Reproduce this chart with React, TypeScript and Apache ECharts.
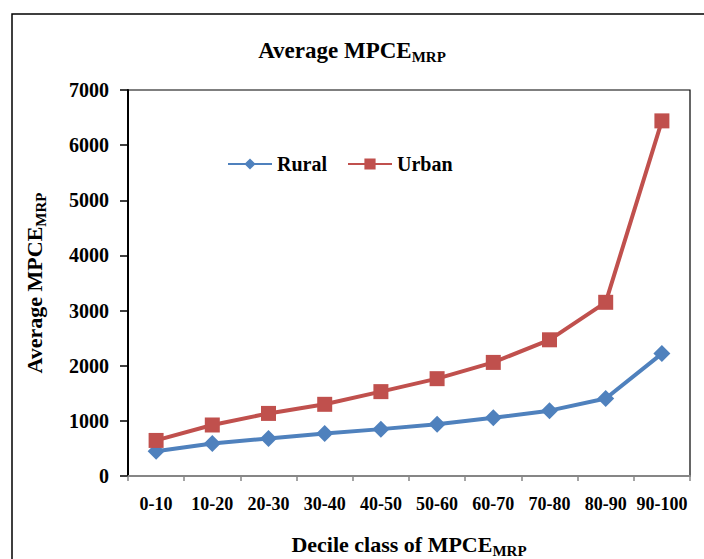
import React, { useEffect, useRef } from "react";
import * as echarts from "echarts";

const categories = ["0-10", "10-20", "20-30", "30-40", "40-50", "50-60", "60-70", "70-80", "80-90", "90-100"];
const rural = [450, 590, 680, 770, 850, 940, 1055, 1185, 1405, 2220];
const urban = [645, 925, 1135, 1300, 1530, 1765, 2060, 2470, 3150, 6440];
const yTicks = { min: 0, max: 7000, interval: 1000 };

const FONT = "'Liberation Serif', 'Times New Roman', serif";

const subRich = (main: number, sub: number) => ({
  a: { fontFamily: FONT, fontWeight: "bold", fontSize: main, color: "#000", lineHeight: 28 },
  b: { fontFamily: FONT, fontWeight: "bold", fontSize: sub, color: "#000", lineHeight: sub, padding: [13, 0, 0, 0] },
});

export default function App() {
  const ref = useRef<HTMLDivElement>(null);
  useEffect(() => {
    if (!ref.current) return;
    const chart = echarts.init(ref.current, undefined, { renderer: "svg" });
    chart.setOption({
      animation: false,
      backgroundColor: "#fff",
      textStyle: { fontFamily: FONT },
      graphic: [
        {
          type: "rect",
          shape: { x: 12, y: 14, width: 720, height: 600 },
          style: { fill: "none", stroke: "#000", lineWidth: 1.5 },
          silent: true,
        },
      ],
      title: {
        left: "center",
        top: 31,
        text: "{a|Average MPCE}{b|MRP}",
        textStyle: { rich: subRich(23, 15) },
      },
      legend: {
        left: 222,
        top: 149,
        itemWidth: 44,
        itemHeight: 14,
        itemGap: 20,
        textStyle: { fontFamily: FONT, fontWeight: "bold", fontSize: 20, color: "#000" },
        data: ["Rural", "Urban"],
      },
      grid: {
        left: 128,
        top: 90,
        right: 14,
        bottom: 83,
        outerBoundsMode: "none",
        containLabel: false,
        show: true,
        borderColor: "#000",
        borderWidth: 1.2,
      },
      xAxis: {
        type: "category",
        data: categories,
        boundaryGap: true,
        axisLine: { lineStyle: { color: "#868686", width: 2 } },
        axisTick: { show: true, length: 5, lineStyle: { color: "#868686", width: 1.5 } },
        axisLabel: { interval: 0, margin: 19, fontFamily: FONT, fontWeight: "bold", fontSize: 18, color: "#000" },
        name: "{a|Decile class of MPCE}{b|MRP}",
        nameLocation: "middle",
        nameGap: 54,
        nameTextStyle: { rich: subRich(22, 15) },
      },
      yAxis: {
        type: "value",
        min: yTicks.min,
        max: yTicks.max,
        interval: yTicks.interval,
        splitLine: { show: false },
        axisLine: { show: true, lineStyle: { color: "#000", width: 2 } },
        axisTick: { show: true, length: 8, lineStyle: { color: "#000", width: 1.5 } },
        axisLabel: { margin: 19, fontFamily: FONT, fontWeight: "bold", fontSize: 20, color: "#000", formatter: (v: number) => String(v) },
        name: "{a|Average MPCE}{b|MRP}",
        nameLocation: "middle",
        nameRotate: 90,
        nameGap: 80,
        nameTextStyle: { rich: subRich(22, 15) },
      },
      series: [
        {
          name: "Rural",
          type: "line",
          data: rural,
          symbol: "diamond",
          symbolSize: 17,
          color: "#4F81BD",
          lineStyle: { width: 4, color: "#4F81BD" },
          itemStyle: { color: "#4F81BD" },
        },
        {
          name: "Urban",
          type: "line",
          data: urban,
          symbol: "rect",
          symbolSize: 15,
          color: "#C0504D",
          lineStyle: { width: 4, color: "#C0504D" },
          itemStyle: { color: "#C0504D" },
        },
      ],
    });
    return () => chart.dispose();
  }, []);
  return <div ref={ref} style={{ position: "fixed", left: 0, top: 0, width: 704, height: 559 }} />;
}
